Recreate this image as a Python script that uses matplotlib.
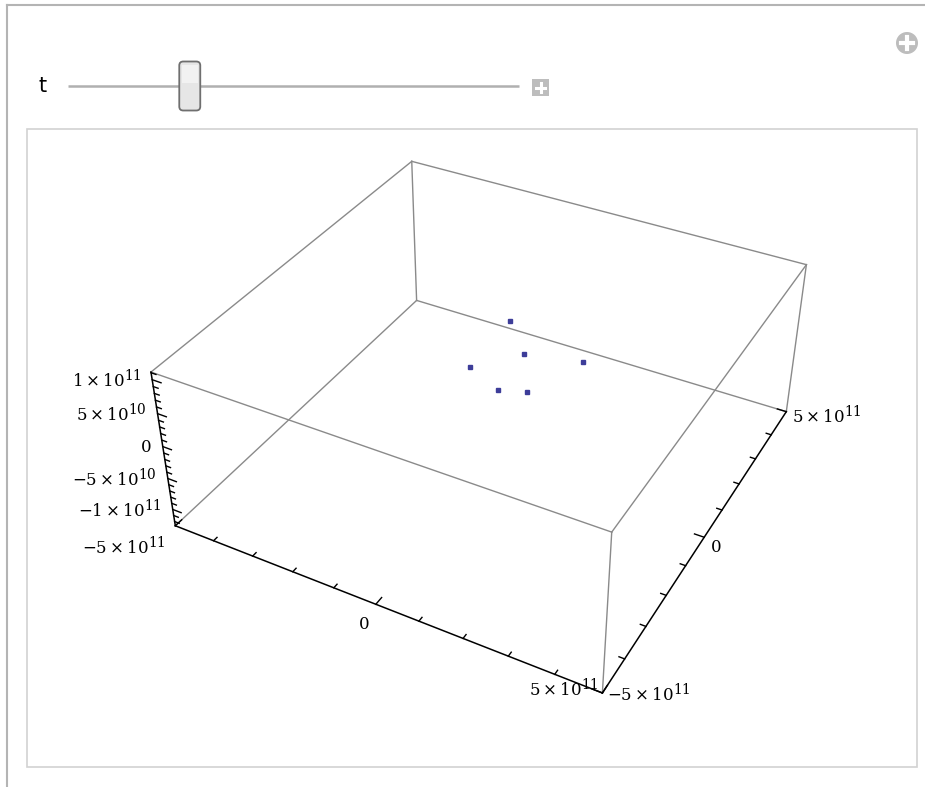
import numpy as np
import matplotlib
matplotlib.use("Agg")
import matplotlib.pyplot as plt
import matplotlib._mathtext as mathtext_internal
from matplotlib.patches import Rectangle, FancyBboxPatch, Circle

plt.rcParams['mathtext.fontset'] = 'dejavuserif'
# Mathematica draws exponents only a bit smaller than the base
mathtext_internal.SHRINK_FACTOR = 0.82

# --- data ---
x_range = (-5e11, 5e11)
y_range = (-5e11, 5e11)
z_range = (-1.27e11, 1.11e11)

px = [8.4e9, 6.63e10, -8.58e10, -5.2e9, 1.240e11, -9.52e10]
py = [-3.5e9, 1.96e10, 4.39e10, 1.440e11, 1.773e11, 2.474e11]
pz = [0.0, 0.0, 0.0, 0.0, 0.0, 0.0]

x_major = [-5e11, 0, 5e11]
y_major = [-5e11, 0, 5e11]
z_major = [-1e11, -5e10, 0, 5e10, 1e11]
x_labels = [r'$-5\times10^{11}$', r'$0$', r'$5\times10^{11}$']
y_labels = [r'$-5\times10^{11}$', r'$0$', r'$5\times10^{11}$']
z_labels = [r'$-1\times10^{11}$', r'$-5\times10^{10}$', r'$0$',
            r'$5\times10^{10}$', r'$1\times10^{11}$']

t_min, t_max, t_value = 0.0, 1.0, 0.27

# --- camera (Mathematica default view) ---
viewpoint = np.array([1.3, -2.4, 2.0])
box_ratios = np.array([1.0, 1.0, 0.4])
scale = 1575
center = (495, 393.5)

fwd = -viewpoint / np.linalg.norm(viewpoint)
right = np.cross(fwd, [0, 0, 1])
right /= np.linalg.norm(right)
up = np.cross(right, fwd)


def norm_coords(x, y, z):
    lo = np.array([x_range[0], y_range[0], z_range[0]])
    hi = np.array([x_range[1], y_range[1], z_range[1]])
    p = np.stack(np.broadcast_arrays(x, y, z), axis=-1).astype(float)
    return ((p - lo) / (hi - lo) - 0.5) * box_ratios


def project_n(p):
    d = p - viewpoint
    depth = d @ fwd
    u = (d @ right) / depth
    v = (d @ up) / depth
    return center[0] + scale * u, center[1] - scale * v


def project(x, y, z):
    return project_n(norm_coords(x, y, z))


fig = plt.figure(figsize=(9.25, 7.87), dpi=100)
ax = fig.add_axes([0, 0, 1, 1])
ax.set_xlim(0, 925)
ax.set_ylim(787, 0)
ax.axis('off')

# panel frames
ax.plot([7, 7], [5, 787], color='#b4b4b4', lw=1.5)
ax.plot([7, 925], [5, 5], color='#b4b4b4', lw=1.5)
ax.add_patch(Rectangle((27, 129), 890, 638, fill=False, ec='#d2d2d2', lw=1.2))

# slider
ax.text(43, 86, 't', fontsize=15, family='DejaVu Sans', ha='center', va='center')
ax.plot([68, 519], [86, 86], color='#b0b0b0', lw=1.8, solid_capstyle='butt')
thumb_x = 68 + (t_value - t_min) / (t_max - t_min) * (519 - 68)
ax.add_patch(FancyBboxPatch((thumb_x - 9, 63), 18, 46,
                            boxstyle='round,pad=1.5,rounding_size=4',
                            fc='#e6e6e6', ec='#6f6f6f', lw=1.3, zorder=3))
ax.add_patch(Rectangle((thumb_x - 8, 65), 16, 18, fc='#f2f2f2', ec='none', zorder=4))
ax.add_patch(Rectangle((532, 79), 17, 17, fc='#bdbdbd', ec='none'))
ax.plot([536, 545], [87.5, 87.5], color='white', lw=2.2)
ax.plot([540.5, 540.5], [83, 92], color='white', lw=2.2)
ax.add_patch(Circle((907, 43), 11, fc='#bdbdbd', ec='none'))
ax.plot([901, 913], [43, 43], color='white', lw=3)
ax.plot([907, 907], [37, 49], color='white', lw=3)

# box edges
xs, ys, zs = x_range, y_range, z_range
gray = '#8a8a8a'
edges = []
for z in zs:
    edges.append(((xs[0], ys[0], z), (xs[1], ys[0], z)))
    edges.append(((xs[0], ys[1], z), (xs[1], ys[1], z)))
    edges.append(((xs[0], ys[0], z), (xs[0], ys[1], z)))
    edges.append(((xs[1], ys[0], z), (xs[1], ys[1], z)))
for x in xs:
    for y in ys:
        edges.append(((x, y, zs[0]), (x, y, zs[1])))
axis_edges = [
    ((xs[0], ys[0], zs[0]), (xs[1], ys[0], zs[0])),
    ((xs[1], ys[0], zs[0]), (xs[1], ys[1], zs[0])),
    ((xs[0], ys[0], zs[0]), (xs[0], ys[0], zs[1])),
]
for a, b in edges:
    if (a, b) in axis_edges:
        continue
    sx, sy = project(np.array([a[0], b[0]]), np.array([a[1], b[1]]),
                     np.array([a[2], b[2]]))
    ax.plot(sx, sy, color=gray, lw=1.0)
for a, b in axis_edges:
    sx, sy = project(np.array([a[0], b[0]]), np.array([a[1], b[1]]),
                     np.array([a[2], b[2]]))
    ax.plot(sx, sy, color='black', lw=1.1)


def draw_ticks(vals, axis_idx, fixed, direction, length):
    for v in vals:
        pt = list(fixed)
        pt[axis_idx] = v
        p0 = norm_coords(*pt)
        p1 = p0 + np.array(direction) * length
        s0 = project_n(p0)
        s1 = project_n(p1)
        ax.plot([s0[0], s1[0]], [s0[1], s1[1]], color='black', lw=1.0)


# x axis ticks (front bottom edge)
x_minor = np.arange(-4e11, 4.01e11, 1e11)
draw_ticks([v for v in x_minor if v != 0], 0, (0, ys[0], zs[0]), (0, 1, 0), 0.012)
draw_ticks(x_major, 0, (0, ys[0], zs[0]), (0, 1, 0), 0.022)
# y axis ticks (right bottom edge)
y_minor = np.arange(-4e11, 4.01e11, 1e11)
draw_ticks([v for v in y_minor if v != 0], 1, (xs[1], 0, zs[0]), (-1, 0, 0), 0.012)
draw_ticks(y_major, 1, (xs[1], 0, zs[0]), (-1, 0, 0), 0.022)
# z axis ticks (left vertical edge)
z_minor = np.arange(-1.2e11, 1.11e11, 1e10)
draw_ticks([v for v in z_minor if round(v / 5e10, 6) % 1 != 0], 2,
           (xs[0], ys[0], 0), (1, 0, 0), 0.012)
draw_ticks(z_major, 2, (xs[0], ys[0], 0), (1, 0, 0), 0.022)

fs = 12
x_offsets = {-5e11: (-10, 21), 0: (-6, 20), 5e11: (-4, -4)}
y_offsets = {-5e11: (5, 1), 0: (6, 10), 5e11: (6, 4)}
for v, lab in zip(x_major, x_labels):
    sx, sy = project(v, ys[0], zs[0])
    dx, dy = x_offsets[v]
    ax.text(sx + dx, sy + dy, lab, fontsize=fs, ha='right', va='center')
for v, lab in zip(y_major, y_labels):
    sx, sy = project(xs[1], v, zs[0])
    dx, dy = y_offsets[v]
    ax.text(sx + dx, sy + dy, lab, fontsize=fs, ha='left', va='center')
for v, lab in zip(z_major, z_labels):
    sx, sy = project(xs[0], ys[0], v)
    ax.text(sx - 11, sy, lab, fontsize=fs, ha='right', va='center')

# points
sx, sy = project(np.array(px), np.array(py), np.array(pz))
ax.plot(sx, sy, 's', color=(0.24, 0.24, 0.6), markersize=3.3, zorder=5)

fig.savefig('out.png', dpi=100)
